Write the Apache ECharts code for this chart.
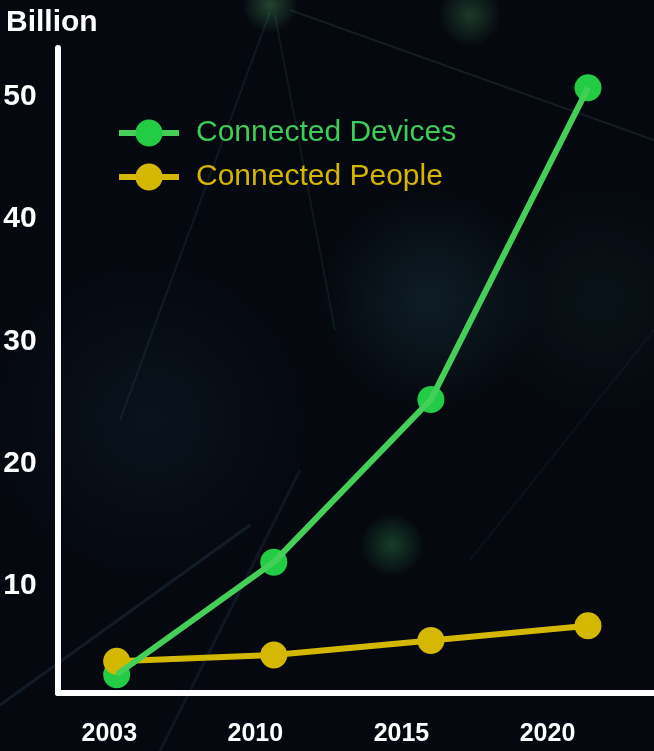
<!DOCTYPE html>
<html>
<head>
<meta charset="utf-8">
<script src="https://cdn.jsdelivr.net/npm/echarts@6/dist/echarts.min.js"></script>
<style>
html,body{margin:0;padding:0;background:#05080f;}
#chart{width:654px;height:751px;}
</style>
</head>
<body>
<div id="chart"></div>
<script>
var years = ['2003', '2010', '2015', '2020'];
var connectedDevices = [2.5, 11.7, 25.0, 50.5];
var connectedPeople = [3.6, 4.1, 5.3, 6.5];
var yTicks = [10, 20, 30, 40, 50];
var seriesNames = ['Connected Devices', 'Connected People'];

var GREEN_MARK = '#22cc44', GREEN_LINE = '#44cf58', GREEN_TEXT = '#3dcc57';
var YELLOW = '#d4b800', YELLOW_TEXT = '#d4b600';

function glow(cx, cy, r, color, a) {
  return {
    type: 'circle', silent: true, z: -10,
    shape: {cx: cx, cy: cy, r: r},
    style: {fill: new echarts.graphic.RadialGradient(0.5, 0.5, 0.5, [
      {offset: 0, color: 'rgba(' + color + ',' + a + ')'},
      {offset: 1, color: 'rgba(' + color + ',0)'}
    ])}
  };
}
function strand(x1, y1, x2, y2, color, w) {
  return {
    type: 'line', silent: true, z: -9,
    shape: {x1: x1, y1: y1, x2: x2, y2: y2},
    style: {stroke: color, lineWidth: w}
  };
}

var chart = echarts.init(document.getElementById('chart'), null, {renderer: 'canvas'});
chart.setOption({
  backgroundColor: '#05080f',
  animation: false,
  textStyle: {fontFamily: 'Liberation Sans, Arial, sans-serif'},
  graphic: [
    glow(430, 300, 110, '30,70,80', 0.35),
    glow(150, 420, 160, '20,45,60', 0.3),
    glow(600, 300, 120, '20,50,50', 0.25),
    glow(270, 5, 28, '70,140,90', 0.45),
    glow(470, 15, 32, '60,130,80', 0.4),
    glow(392, 545, 32, '50,140,80', 0.4),
    strand(270, 12, 120, 420, 'rgba(60,110,110,0.18)', 2),
    strand(275, 15, 335, 330, 'rgba(60,110,100,0.16)', 2),
    strand(290, 10, 654, 140, 'rgba(70,120,110,0.2)', 2),
    strand(0, 705, 250, 525, 'rgba(80,120,160,0.18)', 3),
    strand(160, 751, 300, 470, 'rgba(70,110,150,0.14)', 3),
    strand(654, 330, 470, 560, 'rgba(60,110,110,0.12)', 2)
  ],
  title: {
    text: 'Billion', left: 6, top: 8, padding: 0,
    textStyle: {color: '#ffffff', fontSize: 30, fontWeight: 'bold', fontFamily: 'Liberation Sans, Arial, sans-serif'}
  },
  legend: {
    orient: 'vertical', left: 111, top: 113,
    itemWidth: 60, itemHeight: 34, itemGap: 14,
    lineStyle: {width: 6},
    data: [
      {name: seriesNames[0], textStyle: {color: GREEN_TEXT}},
      {name: seriesNames[1], textStyle: {color: YELLOW_TEXT}}
    ],
    textStyle: {fontSize: 30, padding: [0, 0, 0, 12], fontFamily: 'Liberation Sans, Arial, sans-serif'}
  },
  grid: [
    {left: 116.7, right: 66, top: 45, bottom: 45.8},
    {left: 58, right: 1, top: 48, bottom: 58},
    {left: 109.3, right: 106.5, top: 45, bottom: 58}
  ],
  xAxis: [
    {gridIndex: 0, type: 'category', data: years, boundaryGap: false, show: false},
    {gridIndex: 1, type: 'value', min: 0, max: 1, position: 'bottom',
     axisLine: {show: true, onZero: false, lineStyle: {color: '#ffffff', width: 6, cap: 'round'}},
     axisTick: {show: false}, axisLabel: {show: false}, splitLine: {show: false}},
    {gridIndex: 2, type: 'category', data: years, boundaryGap: false, position: 'bottom',
     axisLine: {show: false}, axisTick: {show: false}, splitLine: {show: false},
     axisLabel: {color: '#ffffff', fontSize: 25, fontWeight: 'bold', margin: 29, interval: 0,
                 fontFamily: 'Liberation Sans, Arial, sans-serif'}}
  ],
  yAxis: [
    {gridIndex: 0, type: 'value', min: 0, max: 54, interval: 10,
     axisLine: {show: false}, axisTick: {show: false}, splitLine: {show: false},
     axisLabel: {color: '#ffffff', fontSize: 30, fontWeight: 'bold', align: 'left', margin: 113.5,
                 fontFamily: 'Liberation Sans, Arial, sans-serif',
                 rich: {t: {color: '#ffffff', fontSize: 30, fontWeight: 'bold', padding: [6, 0, 0, 0],
                            fontFamily: 'Liberation Sans, Arial, sans-serif'}},
                 formatter: function (v) { return yTicks.indexOf(v) >= 0 ? '{t|' + v + '}' : ''; }}},
    {gridIndex: 1, type: 'value', min: 0, max: 1,
     axisLine: {show: true, onZero: false, lineStyle: {color: '#ffffff', width: 6, cap: 'round'}},
     axisTick: {show: false}, axisLabel: {show: false}, splitLine: {show: false}},
    {gridIndex: 2, type: 'value', min: 0, max: 1, show: false}
  ],
  series: [
    {name: seriesNames[0] + ' markers', type: 'scatter', xAxisIndex: 0, yAxisIndex: 0, z: 1,
     symbol: 'circle', symbolSize: 27, itemStyle: {color: GREEN_MARK, opacity: 1}, data: connectedDevices},
    {name: seriesNames[1] + ' markers', type: 'scatter', xAxisIndex: 0, yAxisIndex: 0, z: 2,
     symbol: 'circle', symbolSize: 27, itemStyle: {color: YELLOW, opacity: 1}, data: connectedPeople},
    {name: seriesNames[1], type: 'line', xAxisIndex: 0, yAxisIndex: 0, z: 3,
     symbol: 'circle', symbolSize: 27, showSymbol: false,
     itemStyle: {color: YELLOW}, lineStyle: {color: YELLOW, width: 6}, data: connectedPeople},
    {name: seriesNames[0], type: 'line', xAxisIndex: 0, yAxisIndex: 0, z: 4,
     symbol: 'circle', symbolSize: 27, showSymbol: false,
     itemStyle: {color: GREEN_MARK}, lineStyle: {color: GREEN_LINE, width: 6}, data: connectedDevices}
  ]
});
</script>
</body>
</html>
